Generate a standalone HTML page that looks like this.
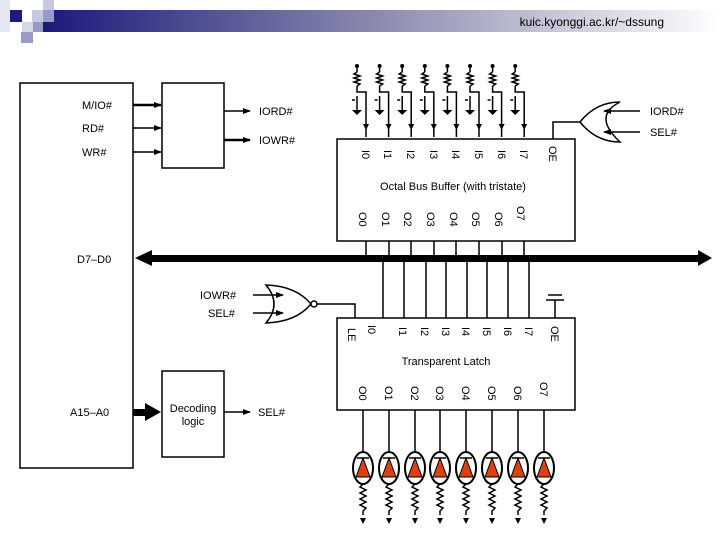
<!DOCTYPE html>
<html><head><meta charset="utf-8"><style>
html,body{margin:0;padding:0;background:#fff;}
svg{display:block;font-family:"Liberation Sans",sans-serif;}
</style></head><body>
<svg width="720" height="540" viewBox="0 0 720 540" xmlns="http://www.w3.org/2000/svg">
<defs>
<linearGradient id="g" x1="0" x2="1" y1="0" y2="0">
<stop offset="0" stop-color="#1a1a7a"/><stop offset="0.5" stop-color="#8c8cb0"/><stop offset="1" stop-color="#ffffff"/>
</linearGradient>
<marker id="ah" markerWidth="8" markerHeight="6" refX="7" refY="3" orient="auto" markerUnits="userSpaceOnUse"><path d="M0,0 L8,3 L0,6 z" fill="#000"/></marker>
</defs>
<!-- header -->
<rect x="43" y="10" width="677" height="22" fill="url(#g)"/>
<rect x="0" y="0" width="10" height="32" fill="#e6e6f2"/>
<rect x="10" y="10" width="12" height="12" fill="#1a1a80"/>
<rect x="32" y="10" width="11" height="12" fill="#c8c8e0"/>
<rect x="43" y="0" width="11" height="10" fill="#c8c8e0"/>
<rect x="43" y="10" width="11" height="12" fill="#9a9ac8"/>
<rect x="22" y="22" width="11" height="10" fill="#d8d8ea"/>
<rect x="33" y="22" width="10" height="10" fill="#9a9ac8"/>
<rect x="21" y="32" width="12" height="11" fill="#9a9ac8"/>
<text x="664" y="26" font-size="12" text-anchor="end" fill="#000">kuic.kyonggi.ac.kr/~dssung</text>

<g stroke="#000" stroke-width="1.5" fill="none">
<rect x="20" y="83" width="113" height="385"/>
<rect x="162" y="83" width="62" height="85"/>
<rect x="162" y="371" width="62" height="86"/>
<rect x="337" y="139" width="238" height="102"/>
<rect x="337" y="318" width="238" height="92"/>
</g>
<g stroke="#000" stroke-width="1.5" marker-end="url(#ah)">
<line x1="133" y1="105" x2="161" y2="105" stroke-width="2.5"/>
<line x1="133" y1="128" x2="161" y2="128"/>
<line x1="133" y1="152" x2="161" y2="152"/>
<line x1="224" y1="111" x2="250" y2="111"/>
<line x1="224" y1="140" x2="250" y2="140" stroke-width="2.5"/>
<line x1="224" y1="412" x2="250" y2="412"/>
<line x1="253" y1="295" x2="283" y2="295"/>
<line x1="253" y1="313" x2="283" y2="313"/>
<line x1="640" y1="111" x2="604" y2="111"/>
<line x1="640" y1="132" x2="604" y2="132"/>
</g>
<g font-size="11" fill="#000">
<text x="82" y="109">M/IO#</text><text x="82" y="132">RD#</text><text x="82" y="156">WR#</text>
<text x="259" y="115">IORD#</text><text x="259" y="144">IOWR#</text>
<text x="77" y="263">D7–D0</text>
<text x="70" y="416">A15–A0</text>
<text x="258" y="416">SEL#</text>
<text x="200" y="299">IOWR#</text><text x="208" y="317">SEL#</text>
<text x="650" y="115">IORD#</text><text x="650" y="136">SEL#</text>
<text x="193" y="412" text-anchor="middle">Decoding</text><text x="193" y="425" text-anchor="middle">logic</text>
<text x="453" y="190" text-anchor="middle">Octal Bus Buffer (with tristate)</text>
<text x="446" y="365" text-anchor="middle">Transparent Latch</text>
</g>
<!-- A15 arrow -->
<rect x="133" y="409" width="14" height="7" fill="#000"/>
<path d="M145,403 L161,412 L145,421 z" fill="#000"/>
<!-- bus -->
<rect x="150" y="255" width="552" height="7" fill="#000"/>
<path d="M135,258 L152,250 L152,266 z" fill="#000"/>
<path d="M712,258 L698,250 L698,266 z" fill="#000"/>
<!-- OR gate top -->
<g stroke="#000" stroke-width="1.5" fill="none">
<path d="M620,102 Q592,116 620,142 Q596,142 580,122 Q596,102 620,102 z"/>
<polyline points="580,122 553,122 553,139"/>
<!-- NOR -->
<path d="M266,285 Q282,304 266,323 Q296,322 311,304 Q296,286 266,285 z"/>
<circle cx="314" cy="304" r="3" fill="#fff"/>
<polyline points="317,304 355,304 355,318"/>
<!-- ground on latch OE -->
<line x1="555" y1="318" x2="555" y2="300"/>
<line x1="546" y1="300" x2="564" y2="300"/>
<line x1="548" y1="295" x2="562" y2="295"/>
</g>
<!-- buffer inputs + pullups -->
<g stroke="#000" stroke-width="1.5" fill="none">
<g id="pu">
<line x1="357" y1="68" x2="357" y2="72"/>
<path d="M357,72 l-3,2 l6,2 l-6,2 l6,2 l-6,2 l6,2 l-3,2"/>
<polyline points="357,86 357,92 366,92 366,137"/>
<line x1="357" y1="96" x2="357" y2="110"/>
<line x1="352" y1="100" x2="355" y2="100"/>
</g>
<use href="#pu" x="22.6"/><use href="#pu" x="45.2"/><use href="#pu" x="67.8"/><use href="#pu" x="90.4"/><use href="#pu" x="113"/><use href="#pu" x="135.6"/><use href="#pu" x="158.2"/>
</g>
<g fill="#000">
<g id="pa"><circle cx="357" cy="66" r="2"/><path d="M352,110 h10 l-5,5 z"/><path d="M363,124 h6 l-3,6 z"/></g>
<use href="#pa" x="22.6"/><use href="#pa" x="45.2"/><use href="#pa" x="67.8"/><use href="#pa" x="90.4"/><use href="#pa" x="113"/><use href="#pa" x="135.6"/><use href="#pa" x="158.2"/>
</g>
<!-- buffer outputs to bus -->
<g stroke="#000" stroke-width="1.5">
<line x1="366" y1="241" x2="366" y2="256"/><line x1="389" y1="241" x2="389" y2="256"/><line x1="411" y1="241" x2="411" y2="256"/><line x1="434" y1="241" x2="434" y2="256"/><line x1="456" y1="241" x2="456" y2="256"/><line x1="479" y1="241" x2="479" y2="256"/><line x1="502" y1="241" x2="502" y2="256"/><line x1="524" y1="241" x2="524" y2="256"/>
<line x1="383" y1="262" x2="383" y2="318"/><line x1="404" y1="262" x2="404" y2="318"/><line x1="426" y1="262" x2="426" y2="318"/><line x1="446" y1="262" x2="446" y2="318"/><line x1="467" y1="262" x2="467" y2="318"/><line x1="487" y1="262" x2="487" y2="318"/><line x1="508" y1="262" x2="508" y2="318"/><line x1="529" y1="262" x2="529" y2="318"/>
</g>
<!-- rotated labels -->
<g font-size="11" fill="#000">
<text transform="translate(362,150) rotate(90)">I0</text><text transform="translate(384,150) rotate(90)">I1</text><text transform="translate(407,150) rotate(90)">I2</text><text transform="translate(430,150) rotate(90)">I3</text><text transform="translate(452,150) rotate(90)">I4</text><text transform="translate(475,150) rotate(90)">I5</text><text transform="translate(498,150) rotate(90)">I6</text><text transform="translate(520,150) rotate(90)">I7</text>
<text transform="translate(549,146) rotate(90)">OE</text>
<text transform="translate(359,212) rotate(90)">O0</text><text transform="translate(382,212) rotate(90)">O1</text><text transform="translate(404,212) rotate(90)">O2</text><text transform="translate(427,212) rotate(90)">O3</text><text transform="translate(450,212) rotate(90)">O4</text><text transform="translate(472,212) rotate(90)">O5</text><text transform="translate(495,212) rotate(90)">O6</text><text transform="translate(517,206) rotate(90)">O7</text>
<text transform="translate(348,328) rotate(90)">LE</text>
<text transform="translate(368,325) rotate(90)">I0</text><text transform="translate(399,327) rotate(90)">I1</text><text transform="translate(421,327) rotate(90)">I2</text><text transform="translate(442,327) rotate(90)">I3</text><text transform="translate(462,327) rotate(90)">I4</text><text transform="translate(483,327) rotate(90)">I5</text><text transform="translate(504,327) rotate(90)">I6</text><text transform="translate(525,327) rotate(90)">I7</text>
<text transform="translate(551,326) rotate(90)">OE</text>
<text transform="translate(359,386) rotate(90)">O0</text><text transform="translate(385,386) rotate(90)">O1</text><text transform="translate(411,386) rotate(90)">O2</text><text transform="translate(436,386) rotate(90)">O3</text><text transform="translate(462,386) rotate(90)">O4</text><text transform="translate(488,386) rotate(90)">O5</text><text transform="translate(514,386) rotate(90)">O6</text><text transform="translate(540,382) rotate(90)">O7</text>
</g>
<!-- LEDs -->
<g id="led">
<line x1="363" y1="410" x2="363" y2="452" stroke="#000" stroke-width="1.5"/>
<ellipse cx="363" cy="468" rx="10" ry="16" fill="#fff" stroke="#000" stroke-width="2"/>
<path d="M356,477 L363,458 L370,477 z" fill="#e04010" stroke="#000" stroke-width="1"/>
<line x1="357" y1="458" x2="369" y2="458" stroke="#000" stroke-width="1.5"/>
<path d="M363,484 l-3,3 l6,3 l-6,3 l6,3 l-6,3 l6,3 l-6,3 l6,3 l-3,3 v4" fill="none" stroke="#000" stroke-width="1.5"/>
<path d="M360,518 h6 l-3,6 z" fill="#000"/>
</g>
<use href="#led" x="26"/><use href="#led" x="52"/><use href="#led" x="77"/><use href="#led" x="103"/><use href="#led" x="129"/><use href="#led" x="155"/><use href="#led" x="181"/>
</svg>
</body></html>
